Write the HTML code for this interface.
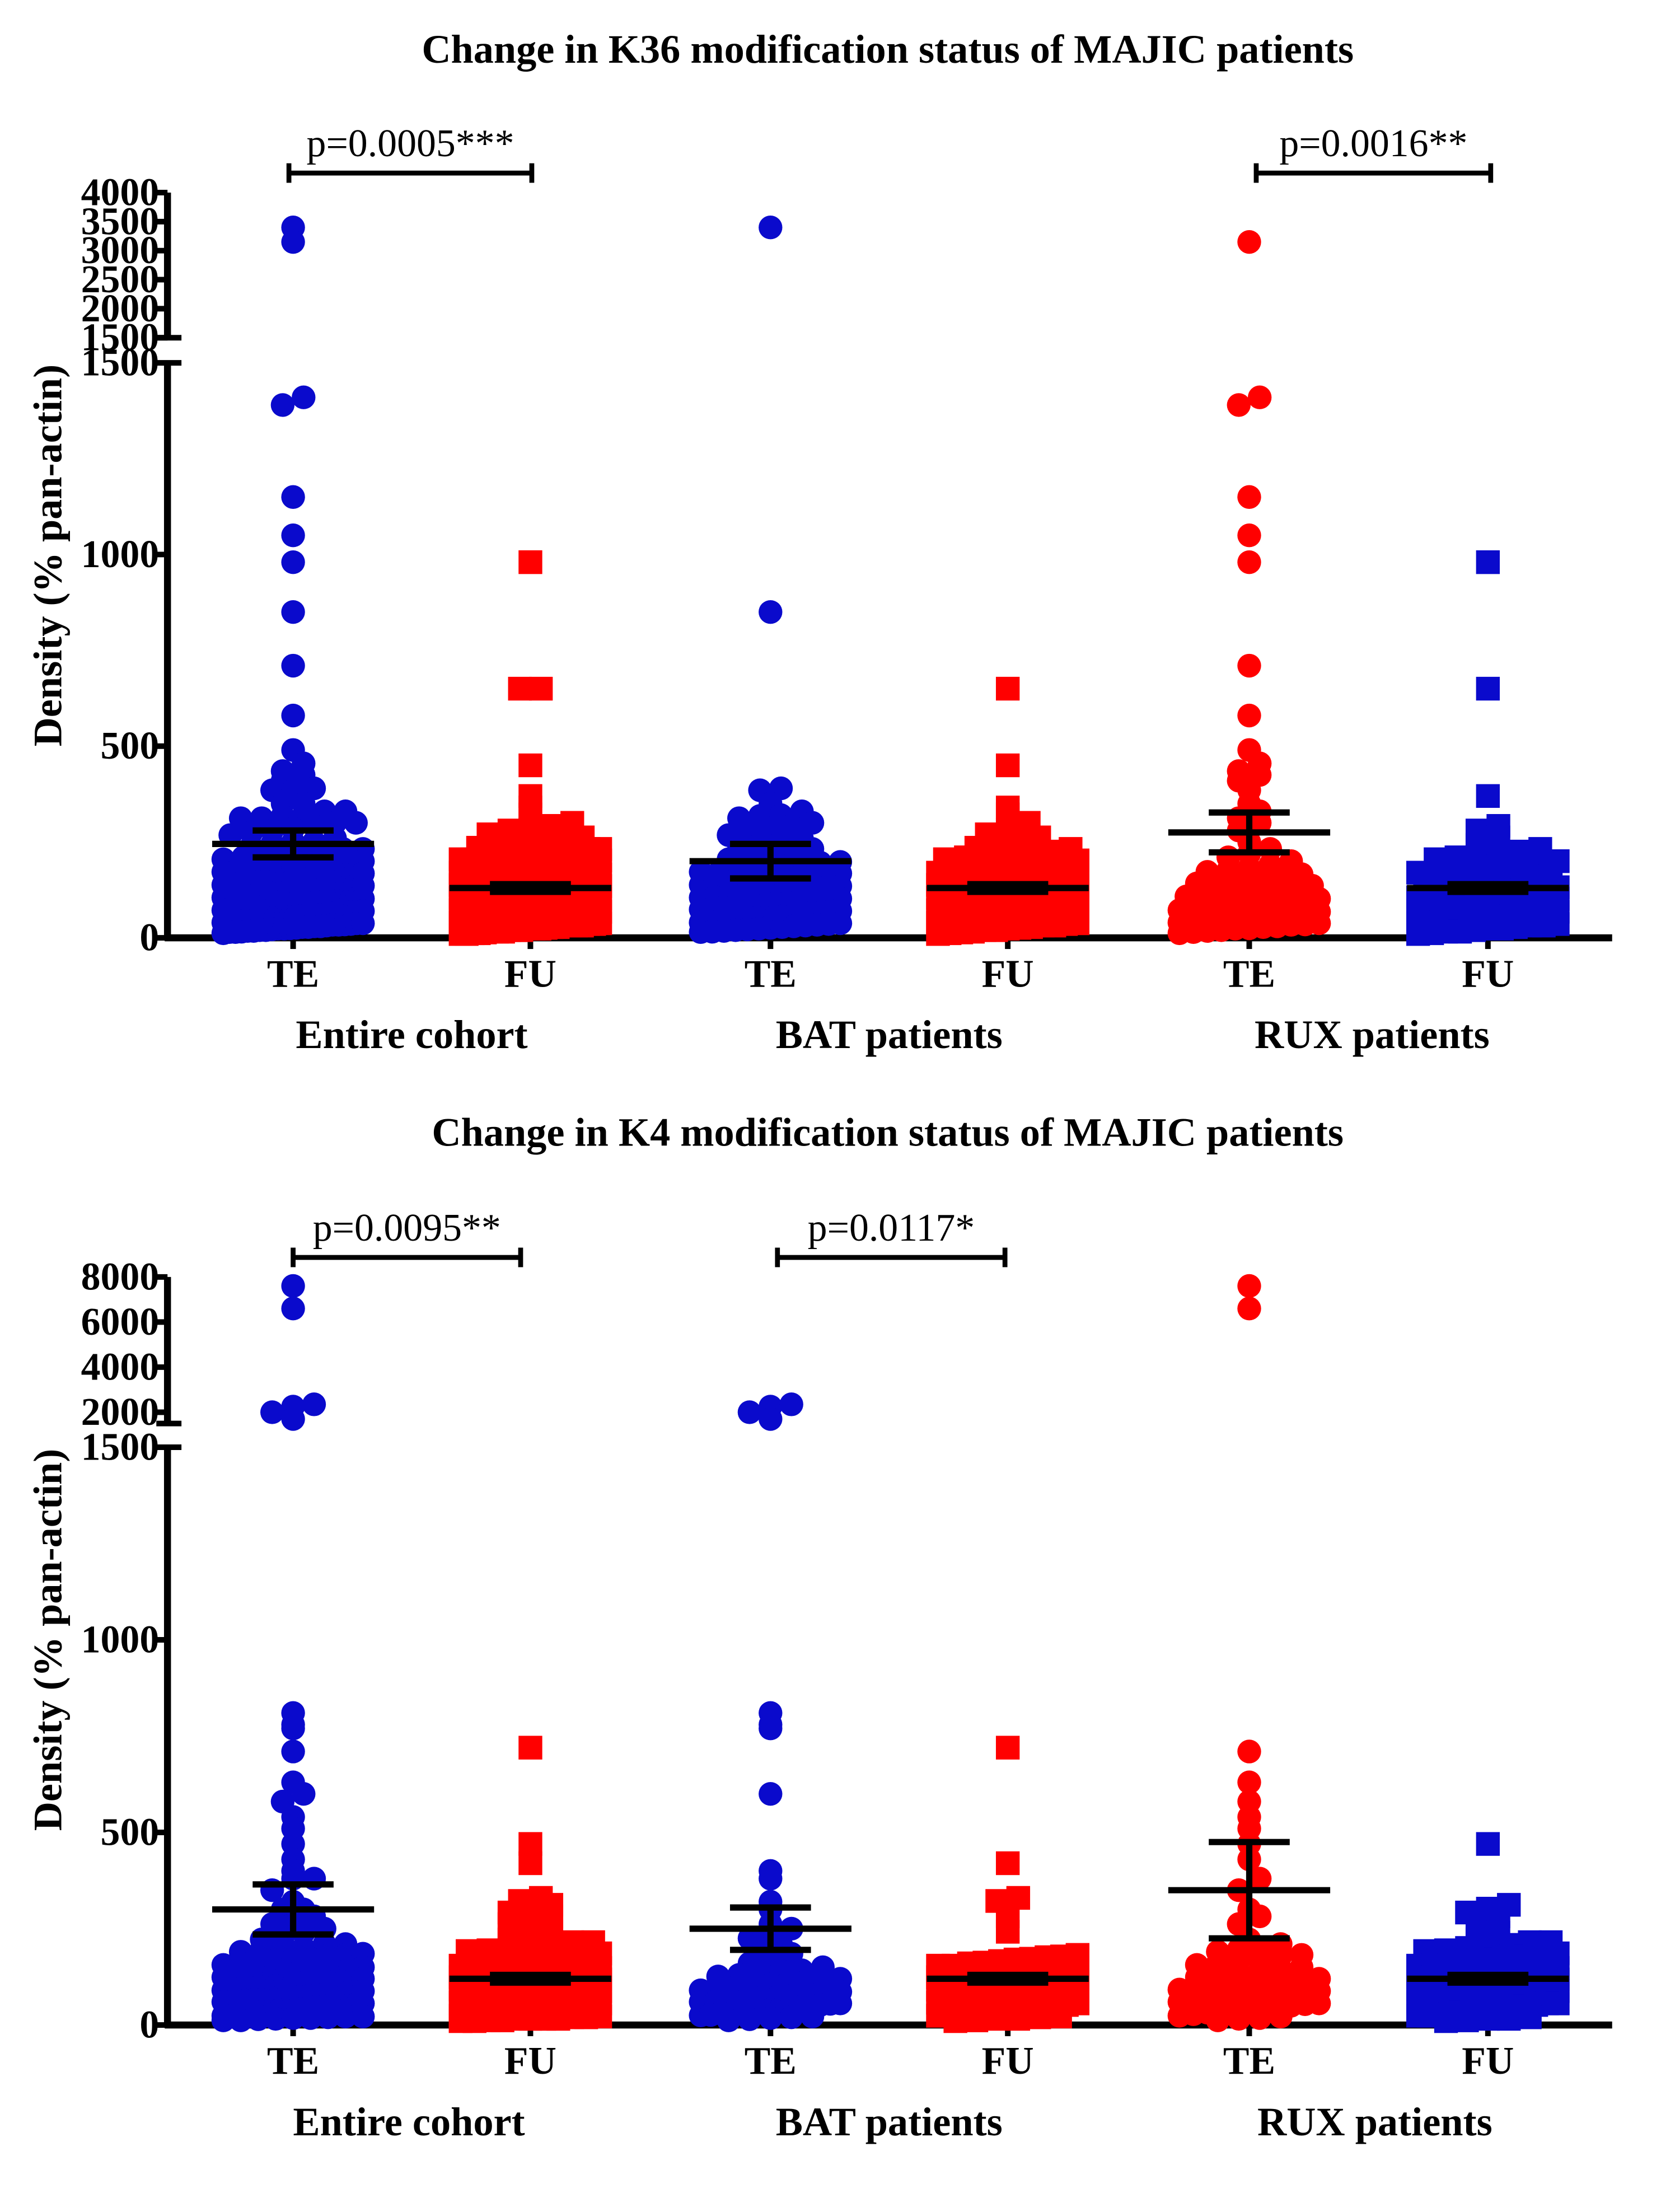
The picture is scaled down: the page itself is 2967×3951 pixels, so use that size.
<!DOCTYPE html>
<html><head><meta charset="utf-8"><style>
html,body{margin:0;padding:0;background:#fff}
svg{display:block}
text{font-family:"Liberation Serif",serif}
</style></head><body>
<svg id="fig" width="2967" height="3951" viewBox="0 0 1190 1585" preserveAspectRatio="none" xmlns="http://www.w3.org/2000/svg"></svg>
<script>
// ===== K36 chart data =====
const categories = ["TE","FU","TE","FU","TE","FU"];
const groupLabels = ["Entire cohort","BAT patients","RUX patients"];
const k36BatTE = [3400,850,390,385,350,330,320,318,312,300,292,285,275,268,260,250,245,238,232,225,218,210,205,198,192,185,180,172,168,160,155,150,145,140,135,128,122,118,110,105,100,96,90,86,80,76,70,66,60,56,52,48,44,40,36,32,28,24,20,16,
  15,18,22,26,30,34,38,42,46,50,54,58,62,66,70,74,78,82,86,90,94,98,102,106,112,116,124,132,138,146,152,158,164,176,188,196];
const k36RuxTE = [3150,1410,1390,1150,1050,980,710,580,490,455,435,425,410,385,350,330,312,300,280,250,232,220,200,182,172,160,150,142,130,122,112,102,96,90,84,78,72,66,60,55,50,45,40,35,30,25,20,15,
  12,18,24,28,34,38,44,48,54,58,64,68,74,82,88,94,100,108,116,126,136,146,156,166,176,190,210];
const k36BatFU = [650,450,340,322,300,282,270,262,250,242,232,222,215,210,202,195,188,180,172,165,158,150,142,135,128,120,115,110,104,98,92,86,80,74,68,62,56,50,44,38,32,26,20,14,10,
  12,16,20,24,28,32,36,40,44,48,52,56,60,64,68,72,76,80,84,88,92,96,100,106,112,118,124,130,138,146,154,162,170,178,186,194,205,215,225,235];
const k36RuxFU = [980,650,370,292,280,262,242,232,220,210,200,190,180,170,160,150,140,132,125,118,110,102,95,88,80,72,64,56,48,40,32,24,16,10,
  12,16,20,24,28,32,36,40,44,48,52,56,60,64,68,72,76,80,84,88,92,96,100,106,112,118,124,130,138,146,154,162,170,178,186,194,205,215,225];
const k36Means = [245,130,200,130,275,130];
const k36Sems = [35,10,45,10,52,10];
const k36UpperTicks = [4000,3500,3000,2500,2000,1500];
const k36LowerTicks = [1500,1000,500,0];
// ===== K4 chart data =====
const k4BatTE = [2350,2250,2000,1700,810,780,770,600,400,380,320,300,262,250,240,225,210,198,185,172,160,150,140,130,120,112,105,98,90,84,78,72,66,60,55,50,45,40,35,30,25,20,15,
  12,18,22,26,30,34,38,42,46,52,56,62,68,74,80,86,94,102,110,118,126,134,142];
const k4RuxTE = [7600,6600,710,630,580,540,510,470,430,380,350,300,282,262,222,210,200,190,180,170,160,150,140,130,120,112,104,96,88,80,72,64,56,48,40,32,24,16,
  12,18,22,28,34,38,44,50,54,60,66,70,76,84,92,100,108,116,124,134,144,156,168,182,196];
const k4BatFU = [720,420,330,322,282,242,182,178,172,166,160,154,148,142,136,130,124,118,112,106,100,94,88,82,76,70,64,58,52,46,40,34,28,22,16,10,
  12,16,20,24,28,32,36,40,44,48,52,56,60,64,68,72,76,80,84,88,92,96,100,106,112,118,124,130,138,146,154,162,170,176];
const k4RuxFU = [470,312,302,292,282,262,240,222,215,208,200,192,185,178,170,162,155,148,140,132,125,118,110,102,95,88,80,72,64,56,48,40,32,24,16,10,
  12,16,20,24,28,32,36,40,44,48,52,56,60,64,68,72,76,80,84,88,92,96,100,106,112,118,124,130,138,146,154,162,170,178,186,194,205,215];
const k4Means = [300,120,250,120,350,120];
const k4Sems = [65,10,55,10,125,10];
const k4UpperTicks = [8000,6000,4000,2000];
const k4LowerTicks = [1500,1000,500,0];

const NS="http://www.w3.org/2000/svg";
const svg=document.getElementById('fig');
function el(tag,attrs,parent){const e=document.createElementNS(NS,tag);for(const k in attrs)e.setAttribute(k,attrs[k]);(parent||svg).appendChild(e);return e;}
const catX=[210,380,552,722,895,1066];
const BLUE="#0a0acc", RED="#ff0000";

function drawChart(cfg){
  const g=el('g',{});
  
  
  const y=v=>{
    if(v<=1500) return cfg.y0-(v/1500)*(cfg.y0-cfg.y1500);
    return cfg.yBreakTop-(v-1500)/(cfg.max-1500)*(cfg.yBreakTop-cfg.yTop);
  };
  const yU=v=>cfg.yBreakTop-(v-1500)/(cfg.max-1500)*(cfg.yBreakTop-cfg.yTop);
  const t=el('text',{x:636,y:cfg.titleY,'text-anchor':'middle','font-size':29,'font-weight':'bold'},g);
  t.textContent=cfg.title;
  
  
  el('line',{x1:120,y1:cfg.yTop,x2:120,y2:cfg.yBreakTop,stroke:'#000','stroke-width':5},g);
  el('line',{x1:120,y1:cfg.y1500,x2:120,y2:cfg.y0+2,stroke:'#000','stroke-width':5},g);
  el('line',{x1:112,y1:cfg.yBreakTop,x2:130,y2:cfg.yBreakTop,stroke:'#000','stroke-width':4},g);
  el('line',{x1:112,y1:cfg.y1500,x2:130,y2:cfg.y1500,stroke:'#000','stroke-width':4},g);
  const label=(v,yy)=>{
    const tl=el('text',{x:114,y:yy+9,'text-anchor':'end','font-size':28,'font-weight':'bold'},g);
    tl.textContent=v;
    
    
  };
  cfg.upper.forEach(v=>{
    const yy=yU(v);
    el('line',{x1:111,y1:yy,x2:120,y2:yy,stroke:'#000','stroke-width':4},g);
    label(v,yy);
  });
  cfg.lower.forEach(v=>{
    const yy=y(v);
    if(v!==1500) el('line',{x1:111,y1:yy,x2:120,y2:yy,stroke:'#000','stroke-width':4},g);
    label(v,yy);
  });
  const yt=el('text',{transform:`translate(44 ${cfg.ytitleY}) rotate(-90)`,'text-anchor':'middle','font-size':29,'font-weight':'bold'},g);
  yt.textContent="Density (% pan-actin)";
  
  
  el('line',{x1:118,y1:cfg.y0,x2:1155,y2:cfg.y0,stroke:'#000','stroke-width':5},g);
  catX.forEach((cx,i)=>{
    el('line',{x1:cx,y1:cfg.y0,x2:cx,y2:cfg.y0+8,stroke:'#000','stroke-width':4},g);
    const xl=el('text',{x:cx,y:cfg.y0+35,'text-anchor':'middle','font-size':28,'font-weight':'bold'},g);
    xl.textContent=categories[i];
    
    
  });
  groupLabels.forEach((lab,i)=>{
    const gl=el('text',{x:cfg.groupX[i],y:cfg.y0+79,'text-anchor':'middle','font-size':29,'font-weight':'bold'},g);
    gl.textContent=lab;
    
    
  });
  cfg.series.forEach((vals,i)=>{
    const cx=catX[i];
    const color=cfg.colors[i];
    const square=(i%2===1);
    const bins={};
    [...vals].sort((a,b)=>a-b).forEach(v=>{
      const py=y(v);const b=Math.round(py/9);
      (bins[b]=bins[b]||[]).push(py);
    });
    Object.keys(bins).forEach(b=>{
      const arr=bins[b];const k=arr.length;
      const dx=k>1?Math.min(15,100/(k-1)):0;
      arr.forEach((py,j)=>{
        const px=cx+(j-(k-1)/2)*dx;
        let m;
        if(square) m=el('rect',{x:px-8.5,y:py-8.5,width:17,height:17,fill:color},g);
        else m=el('circle',{cx:px,cy:py,r:8.5,fill:color},g);
        
        
      });
    });
  });
  cfg.means.forEach((m,i)=>{
    const cx=catX[i];const s=cfg.sems[i];
    const ym=y(m),yh=y(m+s),yl=y(m-s);
    const mg=el('g',{},g);
    
    
    el('line',{x1:cx-58,y1:ym,x2:cx+58,y2:ym,stroke:'#000','stroke-width':4.5},mg);
    el('line',{x1:cx,y1:yh,x2:cx,y2:yl,stroke:'#000','stroke-width':4.5},mg);
    el('line',{x1:cx-29,y1:yh,x2:cx+29,y2:yh,stroke:'#000','stroke-width':4.5},mg);
    el('line',{x1:cx-29,y1:yl,x2:cx+29,y2:yl,stroke:'#000','stroke-width':4.5},mg);
  });
  cfg.brackets.forEach(br=>{
    const bg=el('g',{},g);
    
    
    el('line',{x1:br.x1,y1:br.y,x2:br.x2,y2:br.y,stroke:'#000','stroke-width':3.5},bg);
    el('line',{x1:br.x1,y1:br.y-7,x2:br.x1,y2:br.y+7,stroke:'#000','stroke-width':3.5},bg);
    el('line',{x1:br.x2,y1:br.y-7,x2:br.x2,y2:br.y+7,stroke:'#000','stroke-width':3.5},bg);
    const pt=el('text',{x:(br.x1+br.x2)/2,y:br.y-12,'text-anchor':'middle','font-size':28},bg);
    pt.textContent=br.label;
    
    
  });
}

drawChart({name:'k36-chart',title:'Change in K36 modification status of MAJIC patients',titleY:45,
  y0:672,y1500:260,yBreakTop:242,yTop:138,max:4000,ytitleY:398,
  upper:k36UpperTicks,lower:k36LowerTicks,groupX:[295,637,983],
  series:[k36BatTE.concat(k36RuxTE),k36BatFU.concat(k36RuxFU),k36BatTE,k36BatFU,k36RuxTE,k36RuxFU],
  colors:[BLUE,RED,BLUE,RED,RED,BLUE],means:k36Means,sems:k36Sems,
  brackets:[{x1:207,x2:381,y:124,label:'p=0.0005***'},{x1:900,x2:1068,y:124,label:'p=0.0016**'}]});

drawChart({name:'k4-chart',title:'Change in K4 modification status of MAJIC patients',titleY:821,
  y0:1451,y1500:1037,yBreakTop:1020,yTop:915,max:8000,ytitleY:1175,
  upper:k4UpperTicks,lower:k4LowerTicks,groupX:[293,637,985],
  series:[k4BatTE.concat(k4RuxTE),k4BatFU.concat(k4RuxFU),k4BatTE,k4BatFU,k4RuxTE,k4RuxFU],
  colors:[BLUE,RED,BLUE,RED,RED,BLUE],means:k4Means,sems:k4Sems,
  brackets:[{x1:210,x2:373,y:901,label:'p=0.0095**'},{x1:557,x2:720,y:901,label:'p=0.0117*'}]});
</script>
</body></html>
